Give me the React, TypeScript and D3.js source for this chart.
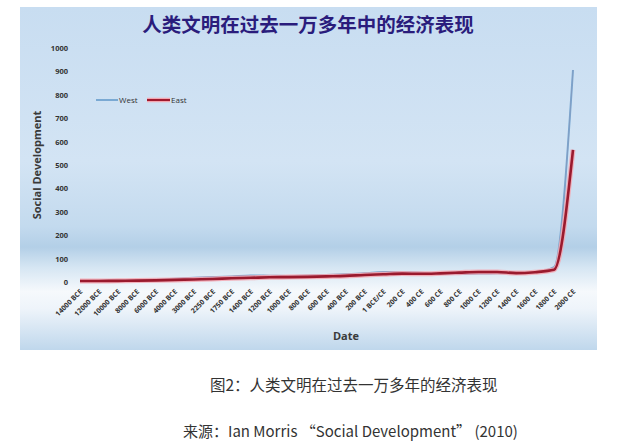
import React from 'react';
import * as d3 from 'd3';

const categories = [
    "14000 BCE", "12000 BCE", "10000 BCE", "8000 BCE", "6000 BCE", "4000 BCE", "3000 BCE",
    "2250 BCE", "1750 BCE", "1400 BCE", "1200 BCE", "1000 BCE", "800 BCE", "600 BCE",
    "400 BCE", "200 BCE", "1 BCE/CE", "200 CE", "400 CE", "600 CE", "800 CE", "1000 CE",
    "1200 CE", "1400 CE", "1600 CE", "1800 CE", "2000 CE",
];
const westValues = [4, 5, 6, 8, 11, 14, 18, 21, 24, 28, 27, 26, 28, 30, 33, 37, 43, 43, 40, 35, 34, 36, 37, 38, 42, 64, 906];
const eastValues = [4, 4.5, 5, 6, 7, 9, 11, 13, 16, 18, 20, 21, 22, 24, 26, 30, 33, 36, 35, 37, 40, 43, 43, 38, 42, 52, 565];
const yTicks = [0, 100, 200, 300, 400, 500, 600, 700, 800, 900, 1000];

const title = "人类文明在过去一万多年中的经济表现";
const caption = "图2：人类文明在过去一万多年的经济表现";
const source = "来源：Ian Morris “Social Development” (2010)";

const App: React.FC = () => {
    const x = d3.scalePoint<string>().domain(categories).range([80, 573]);
    const y = d3.scaleLinear().domain([0, 1000]).range([282, 48]);

    const line = d3.line<number>()
        .x((_, i) => x(categories[i]) as number)
        .y(d => y(d))
        .curve(d3.curveMonotoneX);

    const tickFont = "'Open Sans', 'DejaVu Sans', sans-serif";

    return (
        <svg width={640} height={444} style={{ position: 'absolute', left: 0, top: 0, background: '#fff' }}>
            <defs>
                <linearGradient id="panelBg" x1="0" y1="0" x2="0" y2="1">
                    <stop offset="0%" stopColor="#c8ddf1" />
                    <stop offset="45%" stopColor="#d3e4f4" />
                    <stop offset="64%" stopColor="#c3daee" />
                    <stop offset="70%" stopColor="#b3cfe7" />
                    <stop offset="76%" stopColor="#d6e6f3" />
                    <stop offset="83%" stopColor="#f6f9fc" />
                    <stop offset="88%" stopColor="#eef4fa" />
                    <stop offset="100%" stopColor="#bfd7ec" />
                </linearGradient>
            </defs>
            <rect x={20} y={7} width={577} height={343} fill="url(#panelBg)" />

            <text x={308} y={32} textAnchor="middle" fontSize={19.5} fontWeight="bold"
                fill="#2a1c7c" fontFamily="'Noto Sans CJK SC', sans-serif">{title}</text>

            {yTicks.map(t => (
                <text key={t} x={68} y={y(t) + 3} textAnchor="end" fontSize={7.5} fontWeight="bold"
                    fill="#333" fontFamily={tickFont}>{t}</text>
            ))}

            <text transform={`translate(41,165) rotate(-90)`} textAnchor="middle" fontSize={11}
                fontWeight="bold" fill="#3a3a3a" fontFamily={tickFont}>Social Development</text>

            {categories.map(c => (
                <text key={c} transform={`translate(${(x(c) as number) + 3},${292}) rotate(-45)`}
                    textAnchor="end" fontSize={7} fontWeight="bold" fill="#333"
                    fontFamily={tickFont}>{c}</text>
            ))}

            <text x={346} y={340} textAnchor="middle" fontSize={11} fontWeight="bold" fill="#3a3a3a"
                fontFamily={tickFont}>Date</text>

            {/* legend */}
            <line x1={96} x2={118} y1={100} y2={100} stroke="#7aa9d3" strokeWidth={2} />
            <text x={119} y={103} fontSize={8} fill="#333" fontFamily={tickFont}>West</text>
            <line x1={147} x2={170} y1={100} y2={100} stroke="#f4a7b1" strokeWidth={4.5} />
            <line x1={147} x2={170} y1={100} y2={100} stroke="#a01a2e" strokeWidth={2} />
            <text x={171} y={103} fontSize={8} fill="#333" fontFamily={tickFont}>East</text>

            {/* series */}
            <path d={line(westValues) ?? ''} fill="none" stroke="#7aa9d3" strokeWidth={2} />
            <path d={line(westValues) ?? ''} fill="none" stroke="#8a8fb0" strokeWidth={1} opacity={0.5} />
            <path d={line(eastValues) ?? ''} fill="none" stroke="#f4a7b1" strokeWidth={5} opacity={0.85} />
            <path d={line(eastValues) ?? ''} fill="none" stroke="#9a1a2e" strokeWidth={2.6} />

            <text x={210} y={391} fontSize={15.5} fill="#333" fontFamily="'Noto Sans CJK SC', sans-serif">{caption}</text>
            <text x={183} y={437} fontSize={15} fill="#333" fontFamily="'Noto Sans CJK SC', 'Open Sans', sans-serif">{source}</text>
        </svg>
    );
};

export default App;
